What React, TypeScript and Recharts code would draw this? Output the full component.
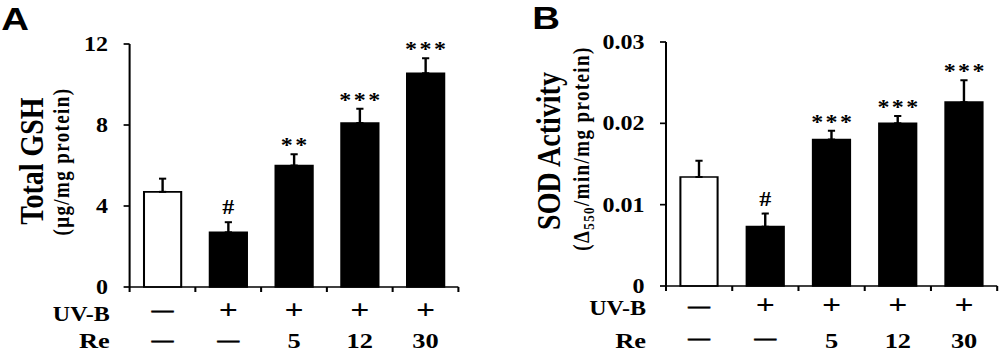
import React from 'react'
import { ComposedChart, Bar, Cell, ErrorBar, Line, LabelList, XAxis, YAxis } from 'recharts'

const SERIF = '"Liberation Serif", "Times New Roman", serif'
const SANS = '"Liberation Sans", Arial, sans-serif'

// groups along the x axis
const groups = ['ctrl', 'uvb', 're5', 're12', 're30']
const uvbSigns = ['—', '+', '+', '+', '+']
const reDoses = ['—', '—', '5', '12', '30']

// A: total GSH (µg/mg protein)
const gshMean = [4.7, 2.7, 6.0, 8.1, 10.55]
const gshSem = [0.65, 0.5, 0.55, 0.7, 0.75]
const gshSig = ['', '#', '**', '***', '***']
const gshTicks = [0, 4, 8, 12]

// B: SOD activity
const sodMean = [0.0134, 0.0073, 0.018, 0.02, 0.0226]
const sodSem = [0.002, 0.0016, 0.0011, 0.0009, 0.0027]
const sodSig = ['', '#', '***', '***', '***']
const sodTicks = [0, 0.01, 0.02, 0.03]

const AXIS = { stroke: '#000', strokeWidth: 1.7 }

// signs are placed by their visual centre, numbers by their baseline
function RowText({ x, center, base, s }: { x: number; center: number; base: number; s: string }) {
  if (s === '+') {
    return (
      <text x={x} y={center + 7} textAnchor="middle" fill="#000" fontFamily={SERIF} fontWeight="bold" fontSize={28}>+</text>
    )
  }
  if (s === '—') {
    return (
      <text x={x} y={center + 4.5} textAnchor="middle" fill="#000" stroke="#000" strokeWidth={0.7} fontFamily={SERIF} fontWeight="bold" fontSize={18}>—</text>
    )
  }
  return (
    <text x={x} y={base} textAnchor="middle" fill="#000" fontFamily={SERIF} fontWeight="bold" fontSize={22}>{s}</text>
  )
}

function GroupTick(props: any) {
  const { x, y, payload, index, rowDy, signDy, half } = props
  const i = typeof index === 'number' ? index : groups.indexOf(payload?.value)
  const h = payload && payload.offset ? payload.offset : half
  return (
    <g>
      <line x1={x - h} y1={y} x2={x - h} y2={y + 5} stroke="#000" strokeWidth={1.7} />
      {i === groups.length - 1 && <line x1={x + h} y1={y} x2={x + h} y2={y + 5} stroke="#000" strokeWidth={1.7} />}
      <RowText x={x} center={y + signDy[0]} base={y + rowDy[0]} s={uvbSigns[i]} />
      <RowText x={x} center={y + signDy[1]} base={y + rowDy[1]} s={reDoses[i]} />
    </g>
  )
}

function SigLabel(props: any) {
  const vb = props.viewBox || {}
  const x = props.x ?? vb.x
  const y = props.y ?? vb.y
  const value = props.value
  if (!value || x == null || y == null) return null
  const hash = value === '#'
  return (
    <text
      x={x + (hash ? 0 : 1)}
      y={y - (hash ? 8 : 2)}
      textAnchor="middle"
      fill="#000"
      fontFamily={SERIF}
      fontWeight="bold"
      fontSize={20}
      letterSpacing={hash ? 0 : 2}
    >
      {value}
    </text>
  )
}

interface DecorProps {
  viewBox?: any
  axisX: number
  axisY: number
  letter: string
  letterX: number
  letterY: number
  title: string
  sub: React.ReactNode
  titleDx: number
  subDx: number
  titleCy: number
  subCy: number
  rowDy: number[]
}

function PanelDecor(p: DecorProps) {
  const vb = p.viewBox && typeof p.viewBox.x === 'number' ? p.viewBox : null
  const x0 = vb ? vb.x + vb.width : p.axisX
  const y0 = vb ? vb.y + vb.height : p.axisY
  const tx = x0 + p.titleDx
  const sx = x0 + p.subDx
  return (
    <g fill="#000" fontFamily={SERIF} fontWeight="bold">
      <text x={p.letterX} y={p.letterY} fontFamily={SANS} fontSize={32}>{p.letter}</text>
      <text x={tx} y={p.titleCy} dy="0.35em" textAnchor="middle" fontSize={28} transform={`rotate(-90 ${tx} ${p.titleCy})`}>
        {p.title}
      </text>
      <text x={sx} y={p.subCy} dy="0.35em" textAnchor="middle" fontSize={19} letterSpacing={1.4} transform={`rotate(-90 ${sx} ${p.subCy})`}>
        {p.sub}
      </text>
      <text x={x0 - 16.6} y={y0 + p.rowDy[0]} textAnchor="end" fontSize={20}>UV-B</text>
      <text x={x0 - 16.6} y={y0 + p.rowDy[1]} textAnchor="end" fontSize={22}>Re</text>
    </g>
  )
}

interface PanelProps {
  width: number
  mean: number[]
  sem: number[]
  sig: string[]
  domain: [number, number]
  ticks: number[]
  fmt: (v: number) => string
  margin: { top: number; right: number; bottom: number; left: number }
  xHeight: number
  rowDy: number[]
  signDy: number[]
  decor: Omit<DecorProps, 'axisX' | 'axisY' | 'rowDy'>
}

function Panel({ width, mean, sem, sig, domain, ticks, fmt, margin, xHeight, rowDy, signDy, decor }: PanelProps) {
  const rows = groups.map((g, i) => ({
    group: g,
    mean: mean[i],
    err: [0, sem[i]],
    top: mean[i] + sem[i],
    sig: sig[i],
  }))
  const axisX = margin.left + 60
  const axisY = 352 - xHeight
  const half = (width - margin.right - axisX) / groups.length / 2
  return (
    <ComposedChart width={width} height={352} data={rows} margin={margin}>
      <XAxis
        dataKey="group"
        height={xHeight}
        interval={0}
        axisLine={AXIS}
        tickLine={false}
        tickSize={0}
        tickMargin={0}
        tick={(p: any) => <GroupTick {...p} rowDy={rowDy} signDy={signDy} half={half} />}
      />
      <YAxis
        type="number"
        domain={domain}
        ticks={ticks}
        interval={0}
        width={60}
        axisLine={AXIS}
        tickLine={AXIS}
        tickSize={5}
        tickMargin={13}
        tickFormatter={fmt}
        tick={{ fill: '#000', fontSize: 20, fontWeight: 'bold', fontFamily: SERIF }}
        label={<PanelDecor {...decor} axisX={axisX} axisY={axisY} rowDy={rowDy} />}
      />
      <Bar dataKey="mean" barSize={31} stroke="#000" strokeWidth={1.7} isAnimationActive={false}>
        {rows.map((r, i) => (
          <Cell key={r.group} fill={i === 0 ? '#ffffff' : '#000000'} />
        ))}
        <ErrorBar dataKey="err" direction="y" width={3} stroke="#000" strokeWidth={2} isAnimationActive={false} />
      </Bar>
      <Line dataKey="top" stroke="none" dot={false} activeDot={false} legendType="none" isAnimationActive={false}>
        <LabelList dataKey="sig" content={SigLabel} />
      </Line>
    </ComposedChart>
  )
}

export default function App() {
  return (
    <div
      style={{
        position: 'absolute',
        left: 0,
        top: 0,
        width: 833,
        height: 352,
        background: '#fff',
        transform: 'scaleX(1.2)',
        transformOrigin: '0 0',
      }}
    >
      <div style={{ position: 'absolute', left: 0, top: 0 }}>
        <Panel
          width={416}
          mean={gshMean}
          sem={gshSem}
          sig={gshSig}
          domain={[0, 12]}
          ticks={gshTicks}
          fmt={(v) => String(v)}
          margin={{ top: 44, right: 34, bottom: 0, left: 48 }}
          xHeight={65}
          rowDy={[34, 61]}
          signDy={[25, 54.7]}
          decor={{
            letter: 'A',
            letterX: 1,
            letterY: 30,
            title: 'Total GSH',
            sub: '(μg/mg protein)',
            titleDx: -82,
            subDx: -57,
            titleCy: 161,
            subCy: 161.5,
          }}
        />
      </div>
      <div style={{ position: 'absolute', left: 416, top: 0 }}>
        <Panel
          width={417}
          mean={sodMean}
          sem={sodSem}
          sig={sodSig}
          domain={[0, 0.03]}
          ticks={sodTicks}
          fmt={(v) => (v === 0 ? '0' : v.toFixed(2))}
          margin={{ top: 42, right: 2, bottom: 0, left: 79 }}
          xHeight={66}
          rowDy={[29, 62]}
          signDy={[21.5, 54]}
          decor={{
            letter: 'B',
            letterX: 27.5,
            letterY: 28.5,
            title: 'SOD Activity',
            sub: (
              <>
                <tspan>(Δ</tspan>
                <tspan fontSize={13} dy={4}>550</tspan>
                <tspan dy={-4}>/min/mg protein)</tspan>
              </>
            ),
            titleDx: -98,
            subDx: -71,
            titleCy: 151,
            subCy: 148.5,
          }}
        />
      </div>
    </div>
  )
}
